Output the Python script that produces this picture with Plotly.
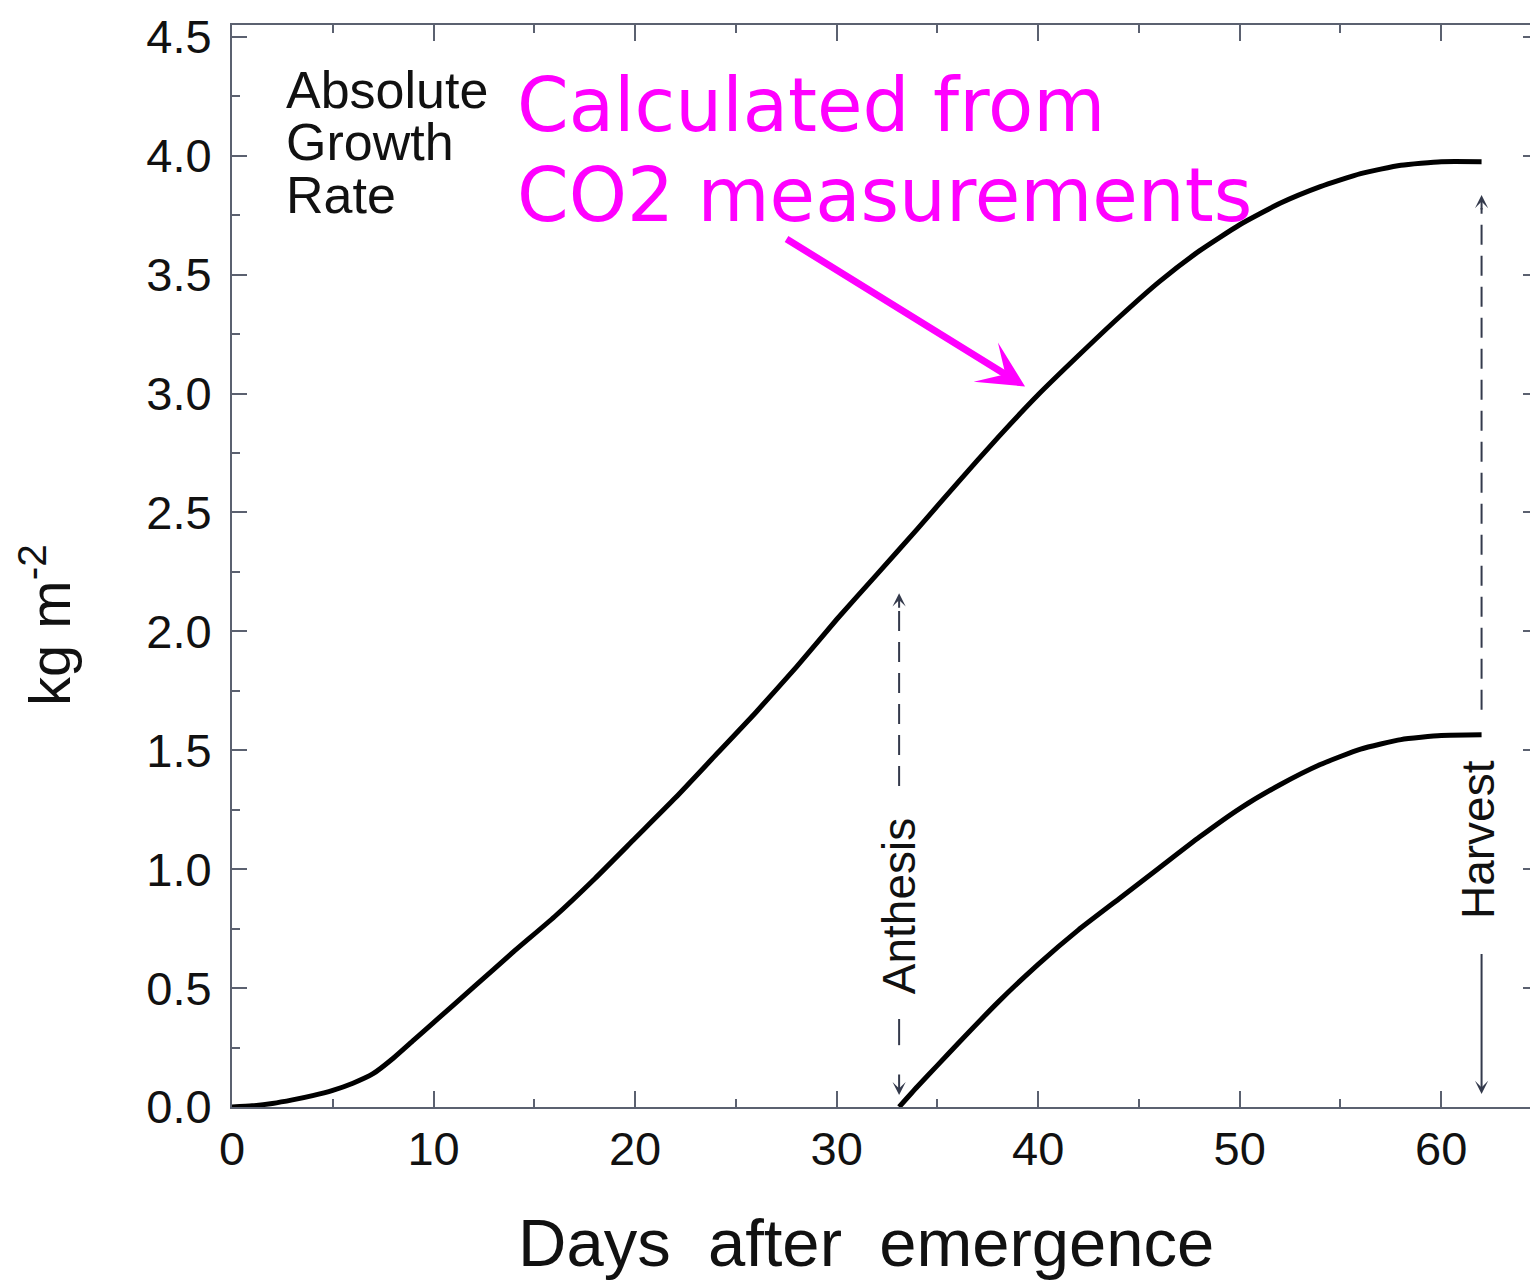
import plotly.graph_objects as go

# ---- data ----
days_total = [0, 1, 2, 3, 4, 5, 6, 7, 8, 9, 10, 12, 14, 16, 18, 20, 22, 24, 26, 28, 30,
              32, 34, 36, 38, 40, 42, 44, 46, 48, 50, 52, 54, 56, 58, 60, 62]
mass_total = [0.0, 0.005, 0.015, 0.03, 0.048, 0.07, 0.10, 0.14, 0.205, 0.28, 0.355, 0.505,
              0.655, 0.80, 0.96, 1.13, 1.30, 1.48, 1.66, 1.85, 2.05, 2.24, 2.43, 2.625,
              2.815, 2.995, 3.16, 3.32, 3.47, 3.60, 3.71, 3.80, 3.87, 3.925, 3.96, 3.975, 3.975]

days_grain = [33.1, 34, 35, 36, 38, 40, 42, 44, 46, 48, 50, 52, 54, 56, 58, 60, 62]
mass_grain = [0.0, 0.085, 0.175, 0.265, 0.44, 0.60, 0.745, 0.875, 1.005, 1.135, 1.255,
              1.355, 1.44, 1.505, 1.545, 1.562, 1.565]

anthesis_day = 33.1
harvest_day = 62.0

x_range = [0, 64.8]
y_range = [0, 4.55]

AX = "#5b6170"
ARW = "#343a4c"
MAG = "#ff00ff"
SANS = "Liberation Sans, Arial, Helvetica, sans-serif"

# plot-area geometry (page pixels) used to place paper-referenced texts
PL, PR, PT, PB = 232, 1538, 25, 1107
def px_x(p):
    return (p - PL) / (PR - PL)
def px_y(p):
    return (PB - p) / (PB - PT)

fig = go.Figure()
fig.add_trace(go.Scatter(x=days_total, y=mass_total, mode="lines",
                         line=dict(color="black", width=5, shape="spline", smoothing=0.5),
                         showlegend=False, hoverinfo="skip"))
fig.add_trace(go.Scatter(x=days_grain, y=mass_grain, mode="lines",
                         line=dict(color="black", width=5, shape="spline", smoothing=0.5),
                         showlegend=False, hoverinfo="skip"))
# helper trace so the right-hand tick axis is drawn
fig.add_trace(go.Scatter(x=[None], y=[None], yaxis="y2", showlegend=False, hoverinfo="skip"))

# dashed guide lines
dash = "20px,11px"
fig.add_shape(type="line", x0=anthesis_day, x1=anthesis_day, y0=1.35, y1=2.11,
              line=dict(color=ARW, width=2, dash=dash))
fig.add_shape(type="line", x0=anthesis_day, x1=anthesis_day, y0=0.37, y1=0.26,
              line=dict(color=ARW, width=2))
fig.add_shape(type="line", x0=harvest_day, x1=harvest_day, y0=1.67, y1=3.78,
              line=dict(color=ARW, width=2, dash=dash))

ann = []
# small arrowheads
ann.append(dict(x=anthesis_day, y=2.16, ax=0, ay=16, xref="x", yref="y", text="",
                showarrow=True, arrowhead=3, arrowsize=1.1, arrowwidth=2, arrowcolor=ARW))
ann.append(dict(x=anthesis_day, y=0.05, ax=0, ay=-22, xref="x", yref="y", text="",
                showarrow=True, arrowhead=3, arrowsize=1.1, arrowwidth=2, arrowcolor=ARW))
ann.append(dict(x=harvest_day, y=3.835, ax=0, ay=16, xref="x", yref="y", text="",
                showarrow=True, arrowhead=3, arrowsize=1.1, arrowwidth=2, arrowcolor=ARW))
ann.append(dict(x=harvest_day, y=0.055, ax=harvest_day, ay=0.65, xref="x", yref="y",
                axref="x", ayref="y", text="",
                showarrow=True, arrowhead=3, arrowsize=1.1, arrowwidth=2, arrowcolor=ARW))

# rotated labels
ann.append(dict(x=anthesis_day, y=0.845, xref="x", yref="y", text="Anthesis", textangle=-90,
                showarrow=False, font=dict(family=SANS, size=46, color="#111"),
                xanchor="center", yanchor="middle"))
ann.append(dict(x=61.85, y=1.125, xref="x", yref="y", text="Harvest", textangle=-90,
                showarrow=False, font=dict(family=SANS, size=46, color="#111"),
                xanchor="center", yanchor="middle"))

# Absolute Growth Rate
for txt, ypx in [("Absolute", 90), ("Growth", 142), ("Rate", 195)]:
    ann.append(dict(x=px_x(284), y=px_y(ypx), xref="paper", yref="paper",
                    text=txt, showarrow=False, xanchor="left", yanchor="middle",
                    font=dict(family=SANS, size=52, color="#111")))

# magenta note
for txt, ypx in [("Calculated from", 105), ("CO2 measurements", 195)]:
    ann.append(dict(x=px_x(515), y=px_y(ypx), xref="paper", yref="paper",
                    text=txt, showarrow=False, xanchor="left", yanchor="middle",
                    font=dict(family="DejaVu Sans, Verdana, sans-serif", size=74, color=MAG)))
ann.append(dict(x=39.35, y=3.03, ax=27.44, ay=3.654, xref="x", yref="y", axref="x", ayref="y",
                text="", showarrow=True, arrowhead=3, arrowsize=1.1, arrowwidth=7,
                arrowcolor=MAG))

# axis titles
ann.append(dict(x=px_x(45), y=px_y(625), xref="paper", yref="paper",
                text="kg m<sup>-2</sup>", textangle=-90, showarrow=False,
                xanchor="center", yanchor="middle", font=dict(family=SANS, size=58, color="#111")))
ann.append(dict(x=px_x(866), y=px_y(1242), xref="paper", yref="paper",
                text="Days \u00a0after \u00a0emergence", showarrow=False,
                xanchor="center", yanchor="middle", font=dict(family=SANS, size=67, color="#111")))

tickfont = dict(family=SANS, size=47, color="#111")
# the page body adds an 8px offset, so margins are reduced by 8
fig.update_layout(
    width=1530, height=1276,
    margin=dict(l=PL - 8, r=0, t=PT - 8, b=1276 + 8 - PB, pad=0),
    paper_bgcolor="white", plot_bgcolor="white",
    annotations=ann,
    xaxis=dict(range=x_range, tick0=0, dtick=10, ticks="inside", ticklen=16, tickwidth=2,
               tickcolor=AX, showline=True, linecolor=AX, linewidth=2, mirror="ticks",
               showgrid=False, zeroline=False, tickfont=tickfont, ticklabelstandoff=0,
               minor=dict(ticks="inside", ticklen=8, dtick=5, tick0=0, tickwidth=2,
                          tickcolor=AX, showgrid=False)),
    yaxis=dict(range=y_range, tick0=0, dtick=0.5, tickformat=".1f", ticks="inside",
               ticklen=15, tickwidth=2, tickcolor=AX, showline=True, linecolor=AX,
               linewidth=2, mirror=False, showgrid=False, zeroline=False, tickfont=tickfont,
               ticklabelstandoff=9,
               minor=dict(ticks="inside", ticklen=8, dtick=0.25, tick0=0, tickwidth=2,
                          tickcolor=AX, showgrid=False)),
    yaxis2=dict(range=y_range, overlaying="y", side="right", tick0=0, dtick=0.5,
                ticks="inside", ticklen=15, tickwidth=2, tickcolor=AX, showline=False,
                showticklabels=False, showgrid=False, zeroline=False,
                minor=dict(ticks="inside", ticklen=8, dtick=0.25, tick0=0, tickwidth=2,
                           tickcolor=AX, showgrid=False)),
)

fig.write_html("out.html")
